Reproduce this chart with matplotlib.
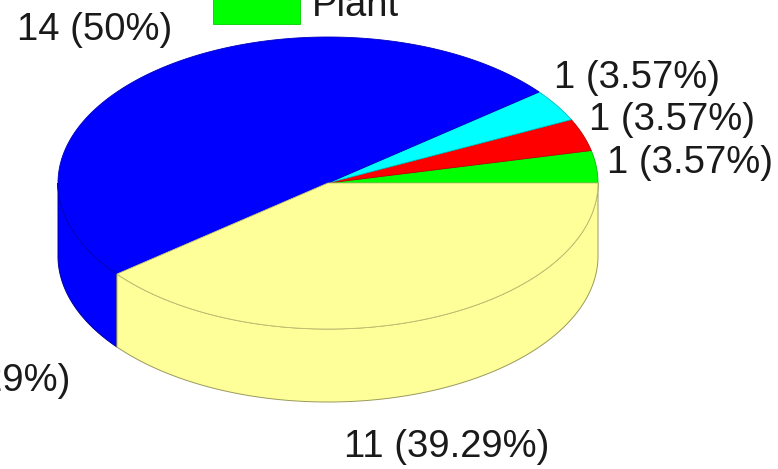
import numpy as np
import matplotlib.pyplot as plt
from matplotlib.patches import Polygon, Rectangle
from matplotlib.colors import to_rgb

# Slice counts, counter-clockwise from the 3 o'clock position
counts = [1, 1, 1, 14, 11]
colors = ["#00ff00", "#ff0000", "#00ffff", "#0000ff", "#ffff99"]
legend_labels = ["Plant"]

plt.rcParams["font.family"] = ["Liberation Sans", "DejaVu Sans"]
FS = 27.5

fig = plt.figure(figsize=(7.78, 4.69), dpi=100)
ax = fig.add_axes([0, 0, 1, 1])
ax.set_xlim(0, 778)
ax.set_ylim(469, 0)
ax.axis("off")

# ellipse geometry of the tilted disc (pixel space)
cx, cy, a, b, depth = 328, 183, 270, 146, 73


def rim(t, drop=0.0):
    return np.column_stack([cx + a * np.cos(t), cy - b * np.sin(t) + drop])


def darker(c, f=0.6):
    return tuple(v * f for v in to_rgb(c))


total = sum(counts)
bounds = np.concatenate([[0], np.cumsum(counts)]) / total * 2 * np.pi

# front side walls (visible half: angles pi..2pi)
for (t0, t1), col in zip(zip(bounds[:-1], bounds[1:]), colors):
    lo, hi = max(t0, np.pi), min(t1, 2 * np.pi)
    if lo < hi:
        t = np.linspace(lo, hi, 200)
        pts = np.vstack([rim(t), rim(t[::-1], depth)])
        ax.add_patch(Polygon(pts, closed=True, facecolor=col,
                             edgecolor=darker(col), linewidth=0.7, zorder=1))

# top faces
for (t0, t1), col in zip(zip(bounds[:-1], bounds[1:]), colors):
    t = np.linspace(t0, t1, 300)
    pts = np.vstack([[cx, cy], rim(t)])
    ax.add_patch(Polygon(pts, closed=True, facecolor=col,
                         edgecolor=darker(col, 0.75), linewidth=0.6, zorder=2))

# slice labels
label_pos = [(607, 163, "left"), (589, 120, "left"), (554, 78, "left"),
             (95, 30, "center"), (447, 447, "center")]
for n, (x, y, ha) in zip(counts, label_pos):
    pct = round(n / total * 100, 2)
    ax.text(x, y, f"{n} ({pct:g}%)", ha=ha, va="center", fontsize=FS,
            color="#1a1a1a", zorder=3)

# label of the neighbouring pie, partly off the left edge
ax.text(70, 381, f"{counts[4]} ({round(counts[4] / total * 100, 2):g}%)",
        ha="right", va="center", fontsize=FS, color="#1a1a1a", zorder=3)

# legend entry at the top
ax.add_patch(Rectangle((213, -12), 87, 36, facecolor=colors[0],
                       edgecolor=darker(colors[0], 0.8), linewidth=0.6, zorder=3))
ax.text(312, 16, legend_labels[0], ha="left", va="baseline", fontsize=FS,
        color="#1a1a1a", zorder=3)

fig.savefig("out.png", dpi=100)
